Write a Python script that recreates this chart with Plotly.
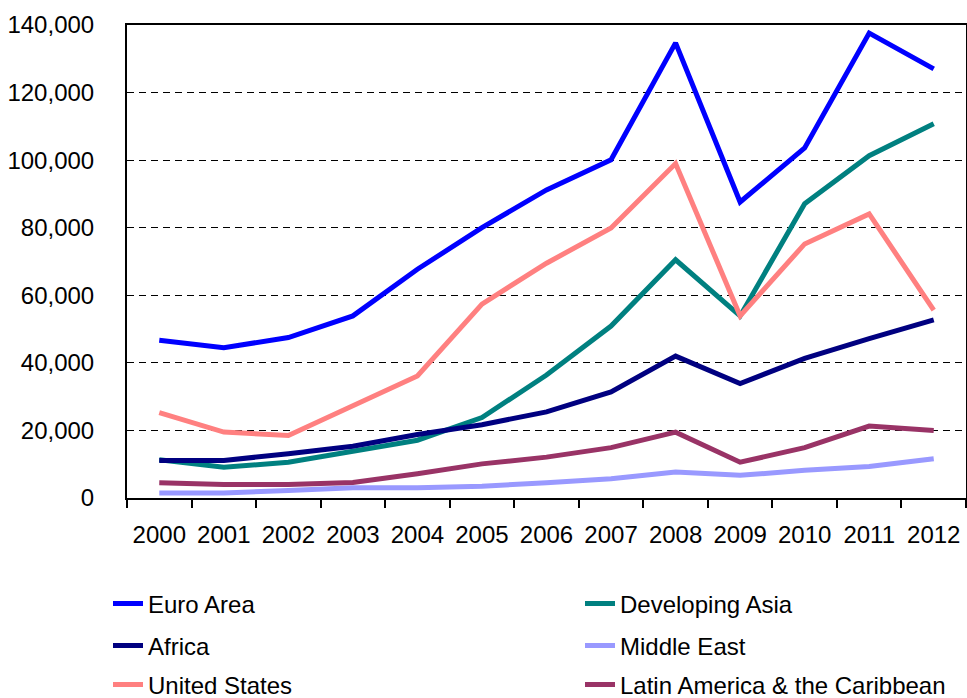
import plotly.graph_objects as go

years = ["2000", "2001", "2002", "2003", "2004", "2005", "2006",
         "2007", "2008", "2009", "2010", "2011", "2012"]

euro_area = [46700, 44500, 47500, 53900, 67700, 80000, 91200,
             100100, 134700, 87600, 103600, 137600, 127000]
developing_asia = [11300, 9100, 10600, 13900, 17100, 23800, 36400,
                   50900, 70500, 53900, 87100, 101300, 110800]
africa = [11100, 11100, 13100, 15300, 18800, 21700, 25500,
          31400, 42000, 33900, 41300, 47200, 52700]
middle_east = [1500, 1500, 2200, 3000, 3000, 3500, 4500,
               5700, 7700, 6700, 8200, 9300, 11600]
united_states = [25300, 19500, 18500, 27200, 36100, 57400, 69500,
                 79900, 99000, 53900, 75200, 84100, 55600]
latin_america = [4500, 4000, 4000, 4600, 7200, 10100, 12100,
                 14900, 19500, 10600, 14900, 21300, 20000]

y_ticks = [0, 20000, 40000, 60000, 80000, 100000, 120000, 140000]

series = [
    # name, values, colour, legend id
    ("Middle East", middle_east, "#9999FF", "legend2"),
    ("Latin America & the Caribbean", latin_america, "#993366", "legend3"),
    ("Developing Asia", developing_asia, "#008080", "legend"),
    ("Africa", africa, "#000080", "legend2"),
    ("Euro Area", euro_area, "#0000FF", "legend"),
    ("United States", united_states, "#FF8080", "legend3"),
]
rank = {"Euro Area": 1, "Developing Asia": 2, "Africa": 1, "Middle East": 2,
        "United States": 1, "Latin America & the Caribbean": 2}

fig = go.Figure()
for name, vals, col, leg in series:
    fig.add_trace(go.Scatter(
        x=years, y=vals, name=name, mode="lines",
        line=dict(color=col, width=5),
        legend=leg, legendrank=rank[name],
    ))

FONT = "Liberation Sans, Arial, sans-serif"
W, H = 967, 698
ml, mr, mt, mb = 127, 1, 25, 200
ph = H - mt - mb
pw = W - ml - mr

def py(pix):
    return (H - mb - pix) / ph

leg_common = dict(
    orientation="h", xanchor="left", yanchor="middle",
    x=(108 - ml) / pw, entrywidth=427, entrywidthmode="pixels",
    font=dict(family=FONT, size=24, color="#000000"),
    bgcolor="rgba(0,0,0,0)", itemclick=False, itemdoubleclick=False,
    traceorder="normal",
)

fig.update_layout(
    width=W, height=H,
    margin=dict(l=ml, r=mr, t=mt, b=mb, autoexpand=False),
    paper_bgcolor="white", plot_bgcolor="white",
    font=dict(family=FONT, size=24, color="#000000"),
    legend=dict(**leg_common, y=py(604)),
    legend2=dict(**leg_common, y=py(646)),
    legend3=dict(**leg_common, y=py(685)),
    xaxis=dict(
        type="category", range=[-0.5, 12.5],
        showline=True, linecolor="#000000", linewidth=2, mirror=True,
        ticks="outside", tickson="boundaries", ticklen=8, tickwidth=1.5,
        tickcolor="#000000", showgrid=False,
        tickfont=dict(family=FONT, size=24, color="#000000"),
        ticklabelstandoff=14,
    ),
    yaxis=dict(
        range=[0, 140000], tickvals=y_ticks, tickformat=",d",
        showline=True, linecolor="#000000", linewidth=2, mirror=True,
        ticks="", showgrid=True, gridcolor="#000000", gridwidth=1,
        griddash="7px,5px", zeroline=False,
        tickfont=dict(family=FONT, size=24, color="#000000"),
        ticklabelstandoff=26,
    ),
)

fig.write_html("out.html")
